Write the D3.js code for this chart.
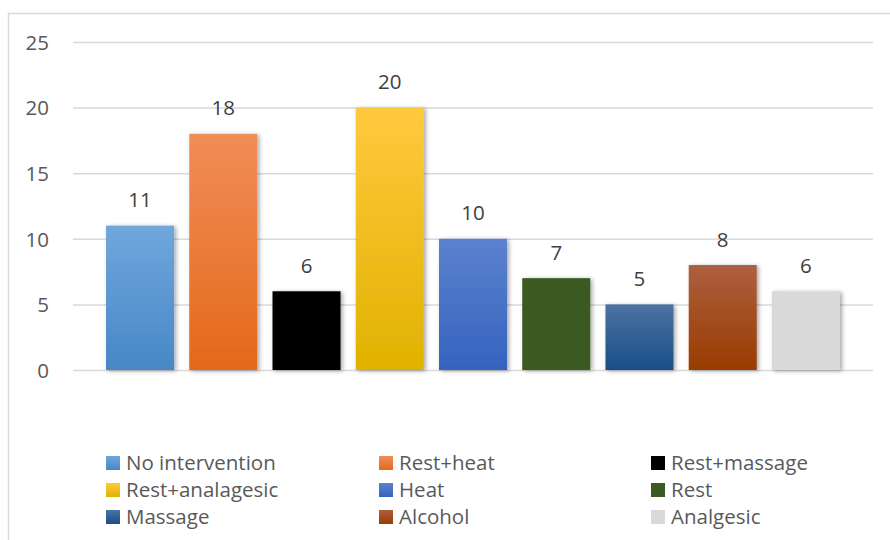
<!DOCTYPE html>
<html>
<head>
<meta charset="utf-8">
<script src="https://cdn.jsdelivr.net/npm/d3@7"></script>
<style>
  html, body { margin: 0; padding: 0; background: #fff; }
  svg { display: block; }
  text { font-family: "Open Sans", "Noto Sans", sans-serif; }
</style>
</head>
<body>
<svg id="chart" width="890" height="540"></svg>
<script>
const categories = ["No intervention", "Rest+heat", "Rest+massage", "Rest+analagesic", "Heat", "Rest", "Massage", "Alcohol", "Analgesic"];
const values = [11, 18, 6, 20, 10, 7, 5, 8, 6];
const colorTop = ["#70a7dd", "#f18d57", "#000000", "#ffc93e", "#5b82cf", "#3b5a24", "#4c72a2", "#ad5f40", "#d9d9d9"];
const colorBottom = ["#4787c7", "#e4681a", "#000000", "#e0b200", "#3563be", "#3b5a24", "#184f88", "#993c00", "#d9d9d9"];
const yTicks = [0, 5, 10, 15, 20, 25];

const svg = d3.select("#chart");
const defs = svg.append("defs");

categories.forEach((c, i) => {
  const g = defs.append("linearGradient").attr("id", "g" + i)
    .attr("x1", 0).attr("y1", 0).attr("x2", 0).attr("y2", 1);
  g.append("stop").attr("offset", "0%").attr("stop-color", colorTop[i]);
  g.append("stop").attr("offset", "100%").attr("stop-color", colorBottom[i]);
});
const f = defs.append("filter").attr("id", "shadow")
  .attr("x", "-20%").attr("y", "-10%").attr("width", "150%").attr("height", "130%");
f.append("feDropShadow").attr("dx", 2).attr("dy", 1).attr("stdDeviation", 2.2)
  .attr("flood-color", "#000").attr("flood-opacity", 0.35);

// outer border
svg.append("rect").attr("x", 8.5).attr("y", 13.5).attr("width", 900).attr("height", 560)
  .attr("fill", "none").attr("stroke", "#d9d9d9").attr("stroke-width", 1.5);

const y = d3.scaleLinear().domain([0, 25]).range([370, 42]);
const x = d3.scaleBand().domain(categories).range([98.4, 847.6]).paddingInner(0.183).paddingOuter(0.0915);

// gridlines
const grid = svg.append("g").attr("class", "grid")
  .attr("transform", "translate(73,0)")
  .call(d3.axisLeft(y).tickValues(yTicks).tickSize(-800).tickFormat(""));
grid.select(".domain").remove();
grid.selectAll("line").attr("stroke", "#d9d9d9").attr("stroke-width", 1.5);

// y tick labels
const ya = svg.append("g").attr("transform", "translate(49,0)")
  .call(d3.axisLeft(y).tickValues(yTicks).tickSize(0).tickPadding(0));
ya.select(".domain").remove();
ya.selectAll("text").attr("fill", "#595959").attr("font-size", 20.5)
  .attr("text-anchor", "end").attr("dy", "0.36em");

// bars
svg.append("g").selectAll("rect").data(values).join("rect")
  .attr("x", (d, i) => x(categories[i]))
  .attr("y", d => y(d))
  .attr("width", x.bandwidth())
  .attr("height", d => y(0) - y(d))
  .attr("fill", (d, i) => "url(#g" + i + ")")
  .attr("filter", "url(#shadow)");

// data labels
svg.append("g").selectAll("text").data(values).join("text")
  .attr("x", (d, i) => x(categories[i]) + x.bandwidth() / 2)
  .attr("y", d => y(d) - 18.5)
  .attr("text-anchor", "middle")
  .attr("fill", "#404040").attr("font-size", 20.5)
  .text(d => d);

// legend
const colX = [106, 379, 651];
const rowY = [463, 490, 517];
const leg = svg.append("g").selectAll("g").data(categories).join("g")
  .attr("transform", (d, i) => `translate(${colX[i % 3]},${rowY[Math.floor(i / 3)]})`);
leg.append("rect").attr("x", 0).attr("y", -7).attr("width", 14).attr("height", 14)
  .attr("fill", (d, i) => "url(#g" + i + ")");
leg.append("text").attr("x", 20).attr("dy", "0.36em")
  .attr("fill", "#595959").attr("font-size", 20.5)
  .text(d => d);
</script>
</body>
</html>
